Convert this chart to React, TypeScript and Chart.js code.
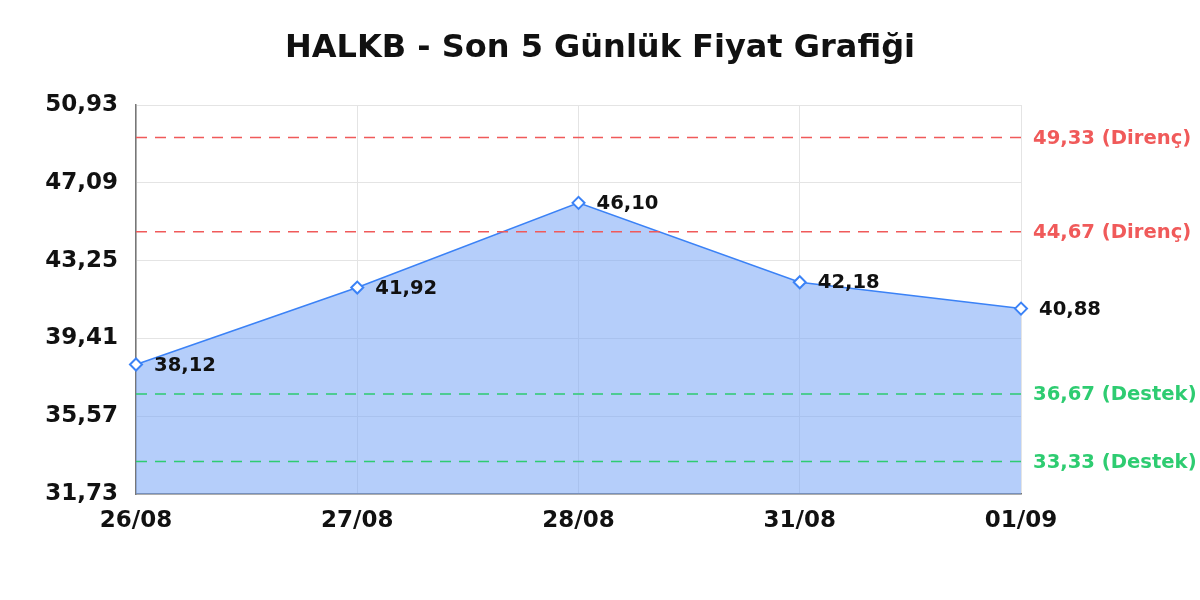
import React, { useEffect, useRef } from 'react';
import { Chart, registerables } from 'chart.js';

Chart.register(...registerables);

// Chart data
const dates = ['26/08', '27/08', '28/08', '31/08', '01/09'];
const prices = [38.12, 41.92, 46.1, 42.18, 40.88];
const yTicks = [31.73, 35.57, 39.41, 43.25, 47.09, 50.93];
const resistanceLevels = [49.33, 44.67];
const supportLevels = [36.67, 33.33];
const titleText = 'HALKB - Son 5 Günlük Fiyat Grafiği';

const RED = '#f05a5a';
const GREEN = '#2ecc71';
const FONT = "'DejaVu Sans', sans-serif";

const fmt = (v: number) => v.toFixed(2).replace('.', ',');

// title, dashed support/resistance lines and value labels
const levelsPlugin = {
  id: 'levels',
  afterDraw(chart: any) {
    const { ctx, width } = chart;
    ctx.save();
    ctx.fillStyle = '#111';
    ctx.font = `bold 32px ${FONT}`;
    ctx.textAlign = 'center';
    ctx.textBaseline = 'middle';
    ctx.fillText(titleText, width / 2, 49);
    ctx.restore();
  },
  afterDatasetsDraw(chart: any) {
    const { ctx, chartArea, scales } = chart;
    const y = scales.y;
    const draw = (levels: number[], color: string, word: string) => {
      levels.forEach((v) => {
        const py = y.getPixelForValue(v);
        ctx.save();
        ctx.strokeStyle = color;
        ctx.lineWidth = 1.5;
        ctx.setLineDash([11, 8]);
        ctx.beginPath();
        ctx.moveTo(chartArea.left, py);
        ctx.lineTo(chartArea.right, py);
        ctx.stroke();
        ctx.setLineDash([]);
        ctx.fillStyle = color;
        ctx.font = `bold 19.6px ${FONT}`;
        ctx.textBaseline = 'middle';
        ctx.textAlign = 'left';
        ctx.fillText(`${fmt(v)} (${word})`, chartArea.right + 12, py + 1);
        ctx.restore();
      });
    };
    draw(resistanceLevels, RED, 'Direnç');
    draw(supportLevels, GREEN, 'Destek');

    const meta = chart.getDatasetMeta(0);
    ctx.save();
    ctx.fillStyle = '#111';
    ctx.font = `bold 19.6px ${FONT}`;
    ctx.textBaseline = 'middle';
    ctx.textAlign = 'left';
    meta.data.forEach((pt: any, i: number) => {
      ctx.fillText(fmt(prices[i]), pt.x + 18, pt.y + 1);
    });
    ctx.restore();
  },
};

const App: React.FC = () => {
  const canvasRef = useRef<HTMLCanvasElement | null>(null);

  useEffect(() => {
    document.body.style.margin = '0';
    if (!canvasRef.current) return;
    const chart = new Chart(canvasRef.current, {
      type: 'line',
      data: {
        labels: dates,
        datasets: [
          {
            data: prices,
            borderColor: '#3b82f6',
            borderWidth: 1.5,
            backgroundColor: 'rgba(120, 165, 245, 0.55)',
            fill: 'origin',
            tension: 0,
            pointStyle: 'rectRot',
            pointRadius: 6,
            pointBorderWidth: 2,
            pointBackgroundColor: '#ffffff',
            pointBorderColor: '#3b82f6',
          },
        ],
      },
      options: {
        animation: false,
        responsive: false,
        layout: { padding: { top: 105, right: 179, bottom: 0, left: 0 } },
        plugins: {
          legend: { display: false },
          tooltip: { enabled: false },
          title: { display: false },
        },
        scales: {
          x: {
            offset: false,
            grid: { color: '#e4e4e4', drawTicks: false },
            border: { color: '#777', width: 1.5 },
            ticks: {
              color: '#111',
              font: { family: FONT, size: 23, weight: 'bold' },
              padding: 13,
              maxRotation: 0,
            },
            afterFit: (s: any) => {
              s.height = 106;
            },
          },
          y: {
            min: yTicks[0],
            max: yTicks[yTicks.length - 1],
            grid: { color: '#e4e4e4', drawTicks: false },
            border: { color: '#777', width: 1.5 },
            ticks: {
              color: '#111',
              font: { family: FONT, size: 23, weight: 'bold' },
              padding: 18,
              callback: (v: any) => fmt(Number(v)),
            },
            afterBuildTicks: (s: any) => {
              s.ticks = yTicks.map((v) => ({ value: v }));
            },
            afterFit: (s: any) => {
              s.width = 136;
            },
          },
        },
      },
      plugins: [levelsPlugin],
    });
    return () => chart.destroy();
  }, []);

  return (
    <div style={{ width: 1200, height: 600, background: '#fff' }}>
      <canvas ref={canvasRef} width={1200} height={600}></canvas>
    </div>
  );
};

export default App;
